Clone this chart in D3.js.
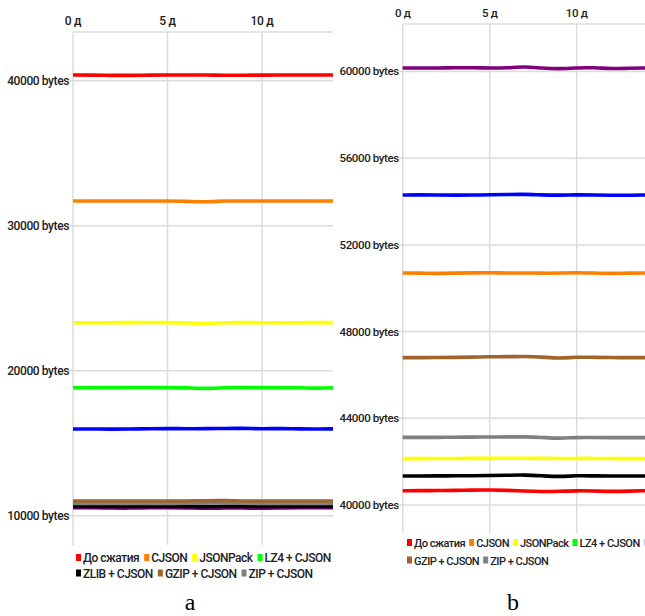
<!DOCTYPE html>
<html><head><meta charset="utf-8">
<script src="https://cdn.jsdelivr.net/npm/d3@7/dist/d3.min.js"></script>
<style>body{margin:0;background:#fff}svg{display:block}</style>
</head><body>
<svg id="c" width="645" height="616"></svg>
<script>
// ---- data ----
const days = [0,1,2,3,4,5,6,7,8,9,10,11,12,13,14];
const xTickValues = [0,5,10];
const xTickLabels = ["0 д","5 д","10 д"];

const seriesNames  = ["До сжатия","CJSON","JSONPack","LZ4 + CJSON","ZLIB + CJSON","GZIP + CJSON","ZIP + CJSON","Серия 8","Серия 9"];
const seriesColors = ["#ff0000","#ff8000","#ffff00","#00ff00","#000000","#a0652c","#808080","#0000ff","#800080"];

// panel a (bytes)
const aTicks = [10000,20000,30000,40000];
const aTickLabels = ["10000 bytes","20000 bytes","30000 bytes","40000 bytes"];
const aBefore   = [40390,40390,40370,40360,40390,40400,40400,40390,40380,40370,40390,40400,40390,40390,40390];
const aCJSON    = [31700,31700,31700,31710,31710,31700,31690,31630,31720,31700,31700,31700,31700,31700,31700];
const aJSONPack = [23310,23310,23310,23320,23320,23320,23300,23260,23310,23320,23310,23310,23310,23320,23320];
const aLZ4      = [18830,18830,18830,18840,18840,18840,18820,18760,18830,18850,18830,18820,18830,18780,18840];
const aZLIB     = [10640,10640,10640,10640,10640,10640,10640,10620,10650,10640,10640,10640,10640,10640,10640];
const aGZIP     = [11010,11010,11010,11010,11010,11010,11010,11040,11050,11010,11010,11010,11010,11010,11010];
const aZIP      = [10850,10850,10850,10850,10850,10850,10850,10880,10890,10850,10850,10850,10850,10850,10850];
const aBlue     = [15980,15980,15970,15980,16000,16010,16000,16000,16020,16030,15990,16020,15980,15980,15990];
const aPurple   = [10550,10550,10530,10520,10550,10550,10540,10500,10530,10540,10500,10540,10550,10550,10550];

// panel b (bytes)
const bTicks = [40000,44000,48000,52000,56000,60000];
const bTickLabels = ["40000 bytes","44000 bytes","48000 bytes","52000 bytes","56000 bytes","60000 bytes"];
const bBefore   = [40660,40660,40670,40670,40690,40690,40680,40640,40620,40630,40660,40650,40620,40640,40660];
const bCJSON    = [50700,50700,50680,50700,50710,50720,50700,50710,50690,50700,50720,50700,50680,50700,50700];
const bJSONPack = [42140,42140,42140,42150,42150,42150,42160,42160,42150,42140,42150,42150,42140,42140,42140];
const bZLIB     = [41340,41340,41340,41350,41350,41360,41370,41390,41350,41300,41360,41340,41340,41340,41340];
const bGZIP     = [46800,46800,46800,46810,46820,46840,46840,46860,46830,46760,46830,46810,46800,46800,46800];
const bZIP      = [43120,43120,43120,43130,43130,43140,43140,43150,43120,43070,43120,43110,43110,43110,43110];
const bBlue     = [54300,54310,54300,54290,54300,54310,54320,54340,54300,54290,54310,54300,54290,54290,54300];
const bPurple   = [60160,60160,60160,60170,60170,60160,60160,60230,60150,60120,60170,60180,60120,60150,60160];

const legendA = [[0,1,2,3],[4,5,6]];
const legendB = [[0,1,2,3,-1],[5,6]];
const extraLegendColor = "#c8c8ff";

// ---- drawing ----
const svg = d3.select("#c");
const FONT = "Roboto, 'Liberation Sans', sans-serif";

function panel(cfg) {
  const g = svg.append("g");
  const clipId = "clip" + cfg.id;
  svg.append("clipPath").attr("id", clipId).append("rect")
    .attr("x", cfg.left - 4).attr("y", 0).attr("width", cfg.clipRight - cfg.left + 4).attr("height", 616);

  const x = d3.scaleLinear().domain([0, 14]).range([cfg.left, cfg.left + 14 * cfg.dayPx]);
  const y = d3.scaleLinear().domain(cfg.yDomain).range([cfg.bottom, cfg.top]);

  const grid = g.append("g").attr("clip-path", `url(#${clipId})`);
  grid.append("line").attr("x1", cfg.left).attr("x2", cfg.clipRight + 5)
    .attr("y1", cfg.top).attr("y2", cfg.top).attr("stroke", "#dcdcdc").attr("stroke-width", 1.5);
  grid.selectAll(".vg").data(xTickValues).join("line")
    .attr("x1", d => x(d)).attr("x2", d => x(d)).attr("y1", cfg.top).attr("y2", cfg.bottom)
    .attr("stroke", "#dcdcdc").attr("stroke-width", 1.5);
  grid.selectAll(".hg").data(cfg.ticks).join("line")
    .attr("x1", cfg.left - 4).attr("x2", cfg.clipRight + 5).attr("y1", d => y(d)).attr("y2", d => y(d))
    .attr("stroke", "#dcdcdc").attr("stroke-width", 1.5);

  g.selectAll(".xl").data(xTickValues).join("text")
    .attr("x", d => x(d)).attr("y", cfg.top - 7).attr("text-anchor", "middle")
    .attr("font-family", FONT).attr("font-size", cfg.fs).attr("font-weight", 500).attr("fill", "#222")
    .attr("letter-spacing", -0.3)
    .text((d, i) => xTickLabels[i]);
  g.selectAll(".yl").data(cfg.ticks).join("text")
    .attr("x", cfg.left - 4).attr("y", d => y(d) + 4).attr("text-anchor", "end")
    .attr("font-family", FONT).attr("font-size", cfg.fs).attr("font-weight", 500).attr("fill", "#222")
    .attr("letter-spacing", -0.4)
    .text((d, i) => cfg.tickLabels[i]);

  const line = d3.line().x((d, i) => x(days[i])).y(d => y(d)).curve(d3.curveBasis);
  const lines = g.append("g").attr("clip-path", `url(#${clipId})`);
  cfg.series.forEach(s => {
    lines.append("path").attr("d", line(s.values)).attr("fill", "none")
      .attr("stroke", seriesColors[s.idx]).attr("stroke-width", 3.6).attr("stroke-linejoin", "round");
  });

  cfg.legend.forEach((row, r) => {
    let cx = cfg.legendX;
    const ly = cfg.legendY + r * cfg.legendDy;
    row.forEach(idx => {
      const col = idx < 0 ? extraLegendColor : seriesColors[idx];
      g.append("rect").attr("x", cx).attr("y", ly - 4).attr("width", 5).attr("height", 7).attr("fill", col);
      if (idx < 0) return;
      const t = g.append("text").attr("x", cx + 7).attr("y", ly + 4)
        .attr("font-family", FONT).attr("font-size", cfg.lfs).attr("font-weight", 500).attr("fill", "#222")
        .attr("letter-spacing", -0.5).text(seriesNames[idx]);
      cx += 7 + t.node().getComputedTextLength() + cfg.gap;
    });
  });

  svg.append("text").attr("x", cfg.captionX).attr("y", 610).attr("text-anchor", "middle")
    .attr("font-family", "'Liberation Serif', 'DejaVu Serif', serif").attr("font-size", 24).attr("fill", "#000")
    .text(cfg.caption);
}

panel({
  id: "a", left: 73, clipRight: 333, dayPx: 18.9, top: 32, bottom: 545,
  yDomain: [7980, 43360], ticks: aTicks, tickLabels: aTickLabels, fs: 12, lfs: 12, gap: 5,
  series: [
    {idx: 0, values: aBefore}, {idx: 1, values: aCJSON}, {idx: 2, values: aJSONPack},
    {idx: 3, values: aLZ4}, {idx: 7, values: aBlue}, {idx: 8, values: aPurple},
    {idx: 4, values: aZLIB}, {idx: 6, values: aZIP}, {idx: 5, values: aGZIP}
  ],
  legend: legendA, legendX: 76, legendY: 558, legendDy: 15.5,
  caption: "a", captionX: 190
});

panel({
  id: "b", left: 402.7, clipRight: 645, dayPx: 17.4, top: 24, bottom: 533,
  yDomain: [38708, 62190], ticks: bTicks, tickLabels: bTickLabels, fs: 11.5, lfs: 11, gap: 4,
  series: [
    {idx: 8, values: bPurple}, {idx: 7, values: bBlue}, {idx: 1, values: bCJSON},
    {idx: 5, values: bGZIP}, {idx: 6, values: bZIP}, {idx: 2, values: bJSONPack},
    {idx: 4, values: bZLIB}, {idx: 0, values: bBefore}
  ],
  legend: legendB, legendX: 407, legendY: 543, legendDy: 17.5,
  caption: "b", captionX: 513
});
</script>
</body></html>
